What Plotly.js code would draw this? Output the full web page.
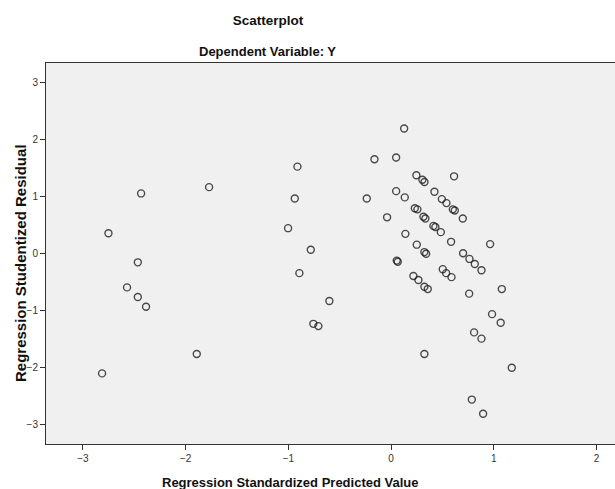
<!DOCTYPE html>
<html>
<head>
<meta charset="utf-8">
<script src="https://cdn.plot.ly/plotly-3.0.1.min.js"></script>
<style>html,body{margin:0;padding:0;background:#fff;}#chart{width:615px;height:489px;}</style>
</head>
<body>
<div id="chart"></div>
<script>
// Regression Standardized Predicted Value
const predicted = [
  -2.434, -1.772, -2.752, -2.466, -2.571, -2.466, -2.386, -1.892, -2.814,
   0.127, -0.912, -0.162, 0.049, 0.246, 0.305, 0.325, 0.613, -0.938, -0.237,
   0.049, 0.133, 0.422, 0.494, 0.539, 0.231, 0.256, 0.601, 0.620, 0.698,
  -0.039, 0.315, 0.334, -1.003, 0.412, 0.431, 0.484, 0.139, 0.250, 0.584,
   0.964, 0.324, 0.341, -0.782, 0.055, 0.065, 0.701, 0.763, 0.815, 0.880,
  -0.893, 0.217, 0.266, 0.503, 0.536, 0.588, 0.324, 0.357, 0.760, 1.078,
  -0.601, -0.757, -0.708, 0.983, 1.067, 0.808, 0.880, 0.324, 1.175, 0.786,
   0.896
];
// Regression Studentized Residual
const residual = [
   1.05, 1.16, 0.35, -0.16, -0.60, -0.77, -0.94, -1.77, -2.11,
   2.19, 1.52, 1.65, 1.68, 1.37, 1.29, 1.25, 1.35, 0.96, 0.96,
   1.09, 0.98, 1.08, 0.95, 0.88, 0.79, 0.77, 0.77, 0.75, 0.61,
   0.63, 0.64, 0.61, 0.44, 0.48, 0.46, 0.37, 0.34, 0.15, 0.20,
   0.16, 0.02, -0.01, 0.06, -0.13, -0.15, 0.00, -0.10, -0.19, -0.30,
  -0.35, -0.40, -0.47, -0.28, -0.35, -0.42, -0.59, -0.63, -0.71, -0.63,
  -0.84, -1.24, -1.28, -1.07, -1.22, -1.39, -1.50, -1.77, -2.01, -2.57,
  -2.82
];
const xTicks = [-3, -2, -1, 0, 1, 2];
const yTicks = [-3, -2, -1, 0, 1, 2, 3];

const font = 'Liberation Sans, Arial, sans-serif';

const trace = {
  type: 'scatter',
  mode: 'markers',
  x: predicted,
  y: residual,
  marker: {
    symbol: 'circle-open',
    size: 7,
    color: 'rgba(30,30,30,0.8)',
    line: {width: 1.4, color: 'rgba(30,30,30,0.8)'}
  },
  hoverinfo: 'x+y'
};

const layout = {
  width: 615,
  height: 489,
  margin: {l: 46, r: 0, t: 63, b: 45},
  paper_bgcolor: '#ffffff',
  plot_bgcolor: '#f0f0f0',
  showlegend: false,
  font: {family: font, size: 10, color: '#333'},
  title: {
    text: '<b>Scatterplot</b>',
    font: {family: font, size: 13.5, color: '#111'},
    x: 268 / 615, xanchor: 'center', xref: 'container',
    y: 1 - 20 / 489, yanchor: 'middle', yref: 'container'
  },
  xaxis: {
    range: [-3.36, 2.18],
    tickvals: xTicks,
    ticks: 'outside', ticklen: 5, tickwidth: 1, tickcolor: '#333',
    showgrid: false, zeroline: false,
    showline: true, linecolor: '#333', linewidth: 1, mirror: true,
    tickfont: {family: font, size: 10, color: '#333'}
  },
  yaxis: {
    range: [-3.35, 3.34],
    tickvals: yTicks,
    ticks: 'outside', ticklen: 5, tickwidth: 1, tickcolor: '#333',
    showgrid: false, zeroline: false,
    showline: true, linecolor: '#333', linewidth: 1,
    tickfont: {family: font, size: 10, color: '#333'}
  },
  annotations: [
    {
      text: '<b>Dependent Variable: Y</b>',
      xref: 'paper', yref: 'paper',
      x: (267 - 46) / 569, y: (444 - 52) / 381,
      xanchor: 'center', yanchor: 'middle', showarrow: false,
      font: {family: font, size: 13, color: '#111'}
    },
    {
      text: '<b>Regression Standardized Predicted Value</b>',
      xref: 'paper', yref: 'paper',
      x: (289.5 - 46) / 569, y: (444 - 482.5) / 381,
      xanchor: 'center', yanchor: 'middle', showarrow: false,
      font: {family: font, size: 13, color: '#111'}
    },
    {
      text: '<b>Regression Studentized Residual</b>',
      xref: 'paper', yref: 'paper',
      x: (20 - 46) / 569, y: (444 - 263) / 381,
      xanchor: 'center', yanchor: 'middle', showarrow: false,
      textangle: -90,
      font: {family: font, size: 15, color: '#111'}
    }
  ]
};

Plotly.newPlot('chart', [trace], layout, {displayModeBar: false, staticPlot: true});
</script>
</body>
</html>
